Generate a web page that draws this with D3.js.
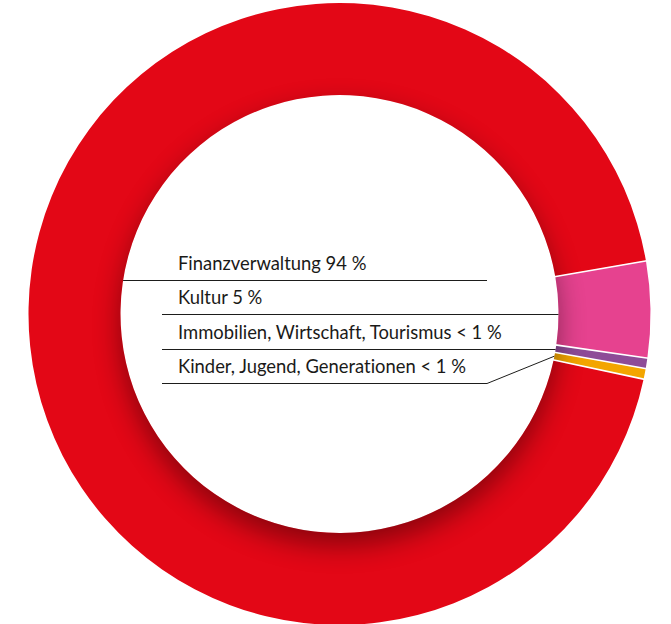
<!DOCTYPE html>
<html>
<head>
<meta charset="utf-8">
<script src="https://cdn.jsdelivr.net/npm/d3@7"></script>
<style>
  html, body { margin: 0; padding: 0; background: #fff; }
  svg { display: block; }
  text { font-variant-ligatures: none; font-feature-settings: "liga" 0; }
</style>
</head>
<body>
<svg id="chart" width="671" height="624"></svg>
<script>
// Budget shares by area (percent)
const categories = ["Kultur", "Immobilien, Wirtschaft, Tourismus", "Kinder, Jugend, Generationen", "Finanzverwaltung"];
const values = [5, 0.55, 0.55, 94];
const valueLabels = ["5 %", "< 1 %", "< 1 %", "94 %"];
// Order of the label rows, top to bottom
const labelRows = ["Finanzverwaltung", "Kultur", "Immobilien, Wirtschaft, Tourismus", "Kinder, Jugend, Generationen"];
const palette = ["#e6428f", "#8e4b97", "#f3a500", "#e30716"];

const width = 671, height = 624;
const cx = 339.5, cy = 314;
const rOuter = 311, rInner = 219;
const startDeg = 80.16;

const svg = d3.select("#chart");
const color = d3.scaleOrdinal(categories, palette);

const data = categories.map((c, i) => ({ name: c, value: values[i], label: valueLabels[i] }));

const pie = d3.pie()
  .sort(null)
  .value(d => d.value)
  .startAngle(startDeg * Math.PI / 180)
  .endAngle(startDeg * Math.PI / 180 + 2 * Math.PI);

const arcs = pie(data);
const arc = d3.arc().innerRadius(rInner).outerRadius(rOuter);

const defs = svg.append("defs");
defs.append("clipPath").attr("id", "ring")
  .append("path")
  .attr("d", d3.arc().innerRadius(rInner).outerRadius(rOuter).startAngle(0).endAngle(2 * Math.PI)());
const blur = defs.append("filter").attr("id", "soft")
  .attr("x", "-30%").attr("y", "-30%").attr("width", "160%").attr("height", "160%");
blur.append("feGaussianBlur").attr("stdDeviation", 14);

const g = svg.append("g").attr("transform", `translate(${cx},${cy})`);

// Ring segments
g.selectAll("path.slice")
  .data(arcs)
  .join("path")
  .attr("class", "slice")
  .attr("d", arc)
  .attr("fill", d => color(d.data.name));

// Shadow cast by the hole onto the inner edge of the ring
g.append("g").attr("clip-path", "url(#ring)")
  .append("circle")
  .attr("cx", 0).attr("cy", 12)
  .attr("r", rInner)
  .attr("fill", "#000")
  .attr("opacity", 0.4)
  .attr("filter", "url(#soft)");

// White separators between segments
g.selectAll("line.sep")
  .data(arcs)
  .join("line")
  .attr("class", "sep")
  .attr("x1", d => d3.pointRadial(d.startAngle, rInner - 1)[0])
  .attr("y1", d => d3.pointRadial(d.startAngle, rInner - 1)[1])
  .attr("x2", d => d3.pointRadial(d.startAngle, rOuter + 1)[0])
  .attr("y2", d => d3.pointRadial(d.startAngle, rOuter + 1)[1])
  .attr("stroke", "#fff")
  .attr("stroke-width", 1.6);

// Labels with leader lines
const rowY = d3.scaleLinear().domain([0, labelRows.length - 1]).range([270, 373]);
const textX = 178;
const lineStartX = 162;
const lineEndX = 487;
const underline = 10;

const innerEdgeX = (y, side) => cx + side * Math.sqrt(rInner * rInner - (y - cy) * (y - cy));

const labels = svg.append("g");
labelRows.forEach((name, i) => {
  const d = arcs.find(a => a.data.name === name);
  const y = rowY(i);
  const ly = Math.round(y + underline) + 0.5;
  labels.append("text")
    .attr("x", textX)
    .attr("y", y)
    .attr("font-family", "Lato, 'Open Sans', sans-serif")
    .attr("font-size", 18.4)
    .attr("fill", "#1a1a18")
    .text(`${d.data.name} ${d.data.label}`);

  let pts;
  if (i === 0) {
    pts = [[innerEdgeX(ly, -1), ly], [lineEndX, ly]];
  } else if (i === labelRows.length - 1) {
    const mid = (d.startAngle + d.endAngle) / 2;
    const p = d3.pointRadial(mid, rInner);
    pts = [[lineStartX, ly], [lineEndX, ly], [cx + p[0], cy + p[1]]];
  } else {
    pts = [[lineStartX, ly], [innerEdgeX(ly, 1), ly]];
  }
  labels.append("path")
    .attr("d", d3.line()(pts))
    .attr("fill", "none")
    .attr("stroke", "#1d1d1b")
    .attr("stroke-width", 1);
});
</script>
</body>
</html>
